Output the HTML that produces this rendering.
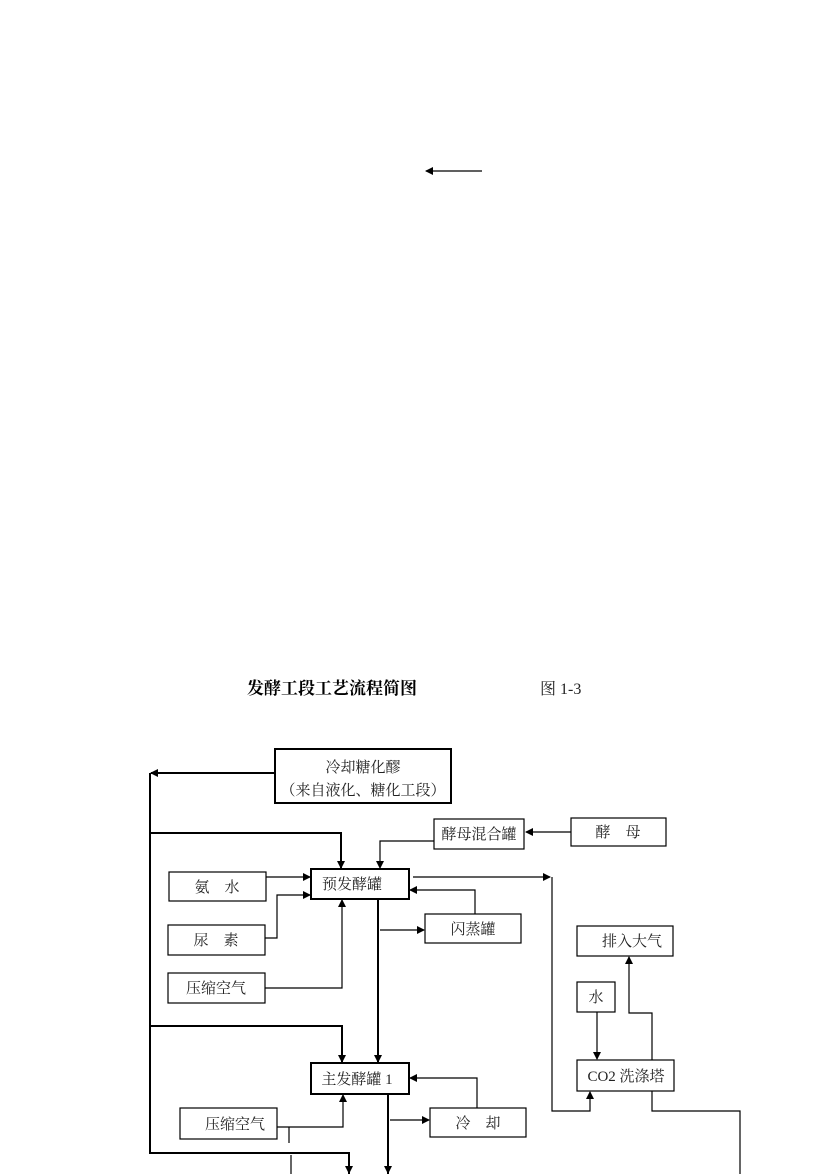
<!DOCTYPE html>
<html><head><meta charset="utf-8"><style>
html,body{margin:0;padding:0;background:#fff;}
svg{display:block;}
text{font-family:"Liberation Serif","Noto Serif CJK SC",serif;font-size:15px;fill:#222;}
</style></head><body>
<svg width="830" height="1174" viewBox="0 0 830 1174" xmlns="http://www.w3.org/2000/svg">
<defs>
<marker id="a" markerWidth="8" markerHeight="8" refX="7" refY="4" orient="auto" markerUnits="userSpaceOnUse">
<path d="M0,0 L8,4 L0,8 z" fill="#000"/></marker>
</defs>
<g stroke="#000" fill="none" stroke-width="1.2">
<line x1="482" y1="171" x2="426" y2="171" marker-end="url(#a)"/>
<rect x="275" y="749" width="176" height="54" stroke-width="2"/>
<rect x="434" y="819" width="90" height="30"/>
<rect x="571" y="818" width="95" height="28"/>
<rect x="169" y="872" width="97" height="29"/>
<rect x="311" y="869" width="98" height="30" stroke-width="2"/>
<rect x="168" y="925" width="97" height="30"/>
<rect x="425" y="914" width="96" height="29"/>
<rect x="577" y="926" width="96" height="30"/>
<rect x="168" y="973" width="97" height="30"/>
<rect x="577" y="982" width="38" height="30"/>
<rect x="577" y="1060" width="97" height="31"/>
<rect x="311" y="1063" width="98" height="31" stroke-width="2"/>
<rect x="180" y="1108" width="97" height="31"/>
<rect x="430" y="1108" width="96" height="29"/>
<polyline points="275,773 151,773" stroke-width="2" marker-end="url(#a)"/>
<line x1="150" y1="773" x2="150" y2="1154" stroke-width="2"/>
<polyline points="150,833 341,833 341,868" stroke-width="2" marker-end="url(#a)"/>
<polyline points="434,841 380,841 380,868" marker-end="url(#a)"/>
<line x1="571" y1="832" x2="526" y2="832" marker-end="url(#a)"/>
<line x1="266" y1="877" x2="310" y2="877" marker-end="url(#a)"/>
<polyline points="265,938 277,938 277,895 310,895" marker-end="url(#a)"/>
<polyline points="265,988 342,988 342,900" marker-end="url(#a)"/>
<line x1="413" y1="877" x2="550" y2="877" marker-end="url(#a)"/>
<polyline points="552,877 552,1111 590,1111 590,1092" marker-end="url(#a)"/>
<polyline points="475,914 475,890 410,890" marker-end="url(#a)"/>
<line x1="378" y1="899" x2="378" y2="1062" stroke-width="2" marker-end="url(#a)"/>
<line x1="380" y1="930" x2="424" y2="930" marker-end="url(#a)"/>
<polyline points="150,1026 342,1026 342,1062" stroke-width="2" marker-end="url(#a)"/>
<line x1="597" y1="1012" x2="597" y2="1059" marker-end="url(#a)"/>
<polyline points="652,1060 652,1013 629,1013 629,957" marker-end="url(#a)"/>
<polyline points="652,1091 652,1111 740,1111 740,1174"/>
<polyline points="477,1108 477,1078 410,1078" marker-end="url(#a)"/>
<line x1="388" y1="1094" x2="388" y2="1174" stroke-width="2"/>
<line x1="390" y1="1120" x2="429" y2="1120" marker-end="url(#a)"/>
<polyline points="277,1127 343,1127 343,1095" marker-end="url(#a)"/>
<line x1="289" y1="1127" x2="289" y2="1143"/>
<line x1="291" y1="1155" x2="291" y2="1174"/>
<polyline points="150,1153 349,1153 349,1174" stroke-width="2"/>
</g>
<polygon points="345,1166 353,1166 349,1174" fill="#000"/>
<polygon points="384,1166 392,1166 388,1174" fill="#000"/>
<text x="247" y="694" style="font-size:17px;font-weight:bold;fill:#000">发酵工段工艺流程简图</text>
<text x="540" y="694" style="font-size:16px">图 1-3</text>
<text x="363" y="772" text-anchor="middle">冷却糖化醪</text>
<text x="363" y="795" text-anchor="middle">（来自液化、糖化工段）</text>
<text x="479" y="839" text-anchor="middle">酵母混合罐</text>
<text x="618" y="837" text-anchor="middle" xml:space="preserve">酵    母</text>
<text x="217" y="892" text-anchor="middle" xml:space="preserve">氨    水</text>
<text x="352" y="889" text-anchor="middle">预发酵罐</text>
<text x="216" y="945" text-anchor="middle" xml:space="preserve">尿    素</text>
<text x="473" y="934" text-anchor="middle">闪蒸罐</text>
<text x="632" y="946" text-anchor="middle">排入大气</text>
<text x="216" y="993" text-anchor="middle">压缩空气</text>
<text x="596" y="1002" text-anchor="middle">水</text>
<text x="626" y="1081" text-anchor="middle">CO2 洗涤塔</text>
<text x="357" y="1084" text-anchor="middle">主发酵罐 1</text>
<text x="235" y="1129" text-anchor="middle">压缩空气</text>
<text x="478" y="1128" text-anchor="middle" xml:space="preserve">冷    却</text>
</svg>
</body></html>
